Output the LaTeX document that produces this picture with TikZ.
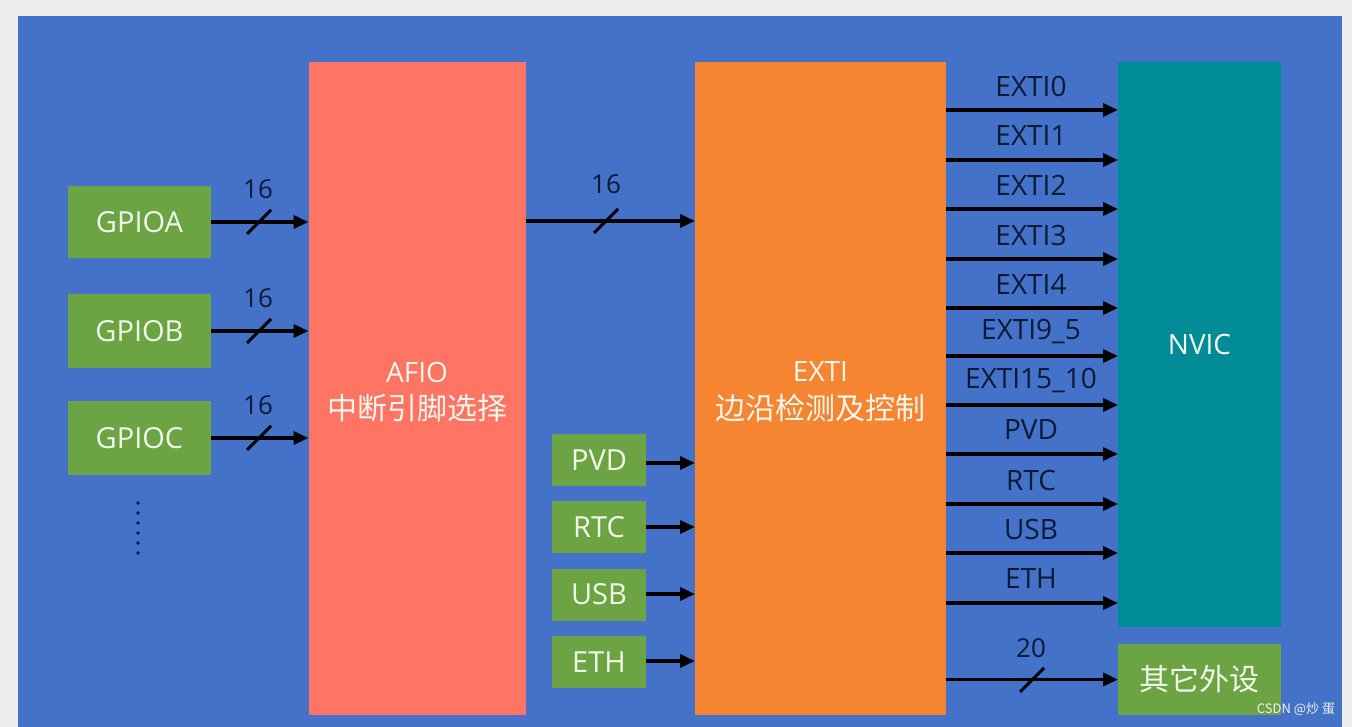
\documentclass[tikz,border=0pt]{standalone}
\usepackage{fontspec}
\setmainfont{Open Sans}
\newfontfamily\cjk{Noto Sans CJK SC}
\usetikzlibrary{arrows.meta}
\definecolor{graybg}{HTML}{EEEEEF}
\definecolor{panel}{HTML}{4372C8}
\definecolor{gbox}{HTML}{6CA443}
\definecolor{afioc}{HTML}{FF7462}
\definecolor{extic}{HTML}{F58530}
\definecolor{nvicc}{HTML}{008B97}
\definecolor{dark}{HTML}{0C1A36}
\definecolor{light}{HTML}{F2F7EC}
\tikzset{
  blk/.style={inner sep=0pt, outer sep=0pt, text=light, align=center},
  grn/.style={blk, fill=gbox, font=\fontsize{29}{31}\selectfont},
  ttl/.style={text=light, inner sep=0pt},
  arr/.style={draw=black, line width=3.6pt, -{Triangle[length=15pt,width=13pt]}},
  slash/.style={draw=black, line width=3pt},
  lbl/.style={text=dark, font=\fontsize{28}{30}\selectfont, inner sep=0pt},
  num/.style={text=dark, font=\fontsize{26}{28}\selectfont, inner sep=0pt},
}
\begin{document}
\begin{tikzpicture}[x=1pt,y=-1pt]
\useasboundingbox (0,0) rectangle (1352,727);
\fill[graybg] (0,0) rectangle (1352,727);
\fill[panel] (18,16) rectangle (1342,727);

% GPIO boxes
\node[grn, minimum width=143, minimum height=72] (gpioa) at (139.5,222) {GPIOA};
\node[grn, minimum width=143, minimum height=74] (gpiob) at (139.5,331) {GPIOB};
\node[grn, minimum width=143, minimum height=74] (gpioc) at (139.5,438) {GPIOC};
\foreach \k in {0,...,5} \fill[dark] (138,503+10*\k) circle (1.8);

% AFIO and EXTI
\node[blk, fill=afioc, minimum width=217, minimum height=653] (afio) at (417,388.5) {};
\node[ttl, font=\fontsize{28}{30}\selectfont] (afiot1) at (417,372) {AFIO};
\node[ttl, font=\cjk\fontsize{30}{32}\selectfont] (afiot2) at (417,408) {中断引脚选择};
\node[blk, fill=extic, minimum width=251, minimum height=653] (exti) at (820.5,388.5) {};
\node[ttl, font=\fontsize{28}{30}\selectfont] (extit1) at (820.5,372) {EXTI};
\node[ttl, font=\cjk\fontsize{30}{32}\selectfont] (extit2) at (820.5,408) {边沿检测及控制};

% NVIC and others
\node[blk, fill=nvicc, minimum width=163, minimum height=565, font=\fontsize{28}{30}\selectfont] (nvic) at (1199.5,344.5) {NVIC};
\node[grn, minimum width=163, minimum height=71, font=\cjk\fontsize{30}{32}\selectfont] (oth) at (1199.5,679.5) {其它外设};

% small source boxes
\node[grn, minimum width=94, minimum height=52] (pvd) at (599,460) {PVD};
\node[grn, minimum width=94, minimum height=52] (rtc) at (599,527) {RTC};
\node[grn, minimum width=94, minimum height=52] (usb) at (599,594.5) {USB};
\node[grn, minimum width=94, minimum height=52] (eth) at (599,662) {ETH};

% GPIO -> AFIO
\foreach \n in {gpioa,gpiob,gpioc}{
  \draw[arr] (\n.east) -- (\n.east -| afio.west);
  \draw[slash] ([xshift=36pt,yshift=-12pt]\n.east) -- ++(24,-24);
  \node[num] at ([xshift=47pt,yshift=33pt]\n.east) {16};
}

% AFIO -> EXTI
\coordinate (a1) at (afio.east |- 0,221);
\draw[arr] (a1) -- (a1 -| exti.west);
\draw[slash] (594,233) -- ++(24,-24);
\node[num] at (606,184) {16};

% small boxes -> EXTI
\foreach \n/\y in {pvd/463,rtc/527,usb/594,eth/661}{
  \coordinate (s\n) at (\n.east |- 0,\y);
  \draw[arr] (s\n) -- (s\n -| exti.west);
}

% EXTI -> NVIC
\foreach \y/\t in {110/EXTI0,160/EXTI1,209/EXTI2,259/EXTI3,308/EXTI4,356/EXTI9\_5,405/EXTI15\_10,454/PVD,504/RTC,553/USB,603/ETH}{
  \coordinate (o) at (exti.east |- 0,\y);
  \draw[arr] (o) -- (o -| nvic.west);
  \node[lbl] at (1031,\y-24) {\t};
}

% EXTI -> other peripherals
\coordinate (o20) at (exti.east |- oth.west);
\draw[arr] (o20) -- (oth.west);
\draw[slash] (1020,692) -- ++(24,-24);
\node[num] at (1031,648) {20};

% watermark
\node[text=white!88!gray, font=\cjk\fontsize{13}{14}\selectfont, inner sep=0pt] at (1296,709) {CSDN @炒 蛋};
\end{tikzpicture}
\end{document}
